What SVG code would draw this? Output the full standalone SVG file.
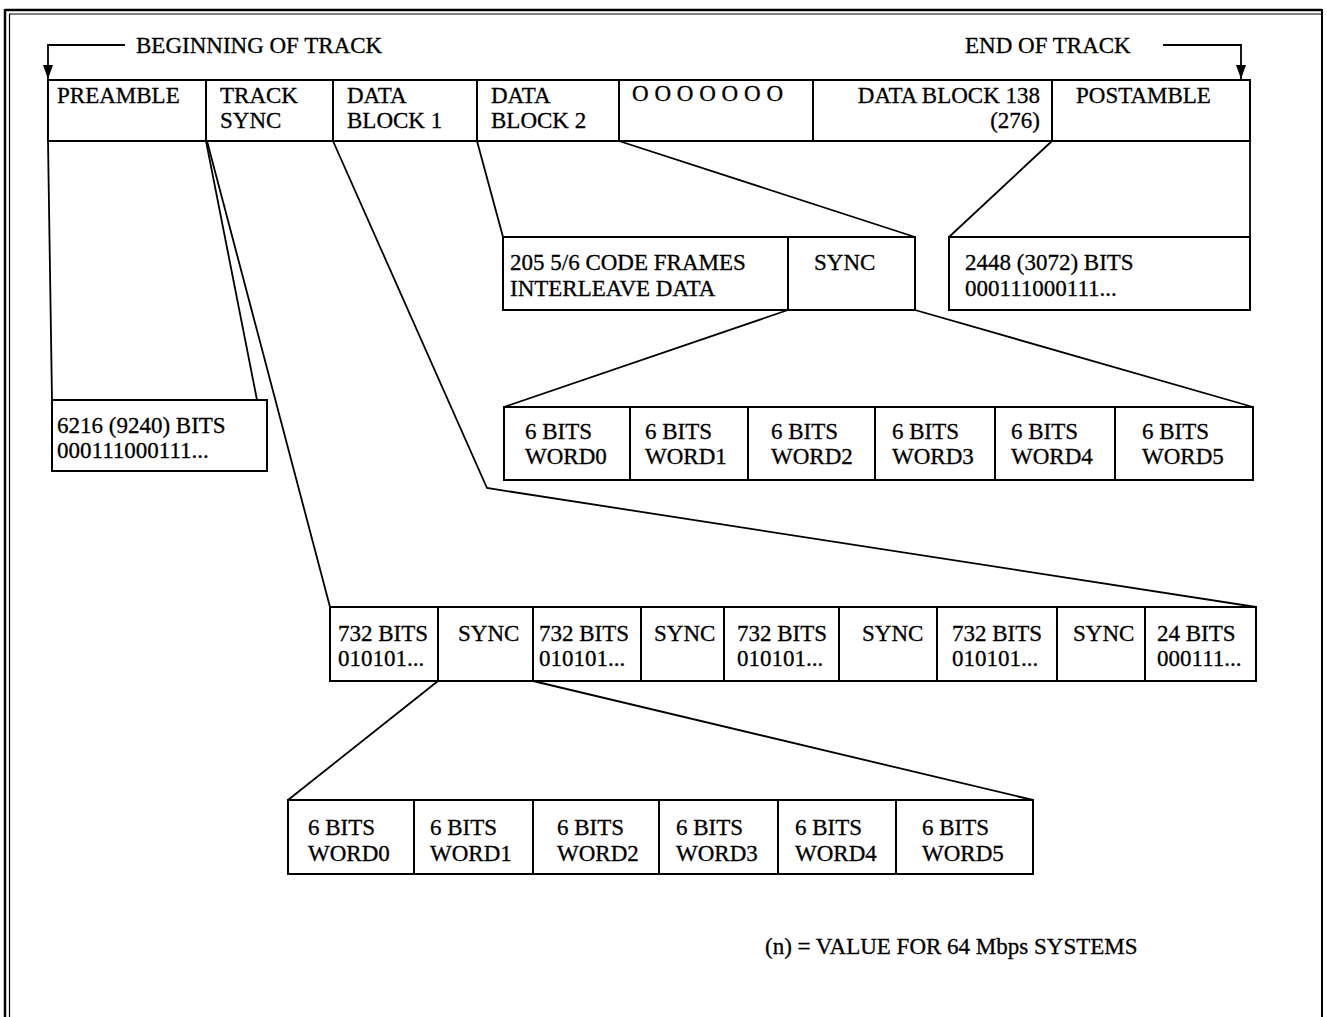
<svg xmlns="http://www.w3.org/2000/svg" width="1327" height="1017" viewBox="0 0 1327 1017">
<style>
.b{fill:none;stroke:#000;stroke-width:2}
.t{font-family:"Liberation Serif","Times New Roman",serif;font-size:23px;fill:#000;stroke:#000;stroke-width:0.3}
.r{text-anchor:end}
.c{fill:none;stroke:#000;stroke-width:1.8}
.f{fill:none;stroke:#000}
</style>
<defs>
<marker id="ah" markerWidth="14" markerHeight="10" refX="14" refY="5" orient="auto" markerUnits="userSpaceOnUse" viewBox="0 0 14 10">
<path d="M0,0 L14,5 L0,10 Z" fill="#000"/>
</marker>
</defs>
<rect width="1327" height="1017" fill="#fff"/>
<g id="frame">
<line class="f" stroke-width="2.5" x1="5" y1="10" x2="1322" y2="10"/>
<line class="f" stroke-width="1" x1="9" y1="14" x2="1322" y2="14"/>
<line class="f" stroke-width="2.5" x1="5" y1="9" x2="5" y2="1017"/>
<line class="f" stroke-width="1.2" x1="9.5" y1="14" x2="9.5" y2="1017"/>
<line class="f" stroke-width="2" x1="1322" y1="9" x2="1322" y2="1017"/>
</g>
<g id="connectors">
<polyline class="c" points="125,45 48,45 48,79" marker-end="url(#ah)"/>
<polyline class="c" points="1163,45 1241,45 1241,79" marker-end="url(#ah)"/>
<line class="c" x1="48" y1="141" x2="52" y2="400"/>
<line class="c" x1="206" y1="141" x2="257" y2="400"/>
<line class="c" x1="207" y1="141" x2="330" y2="607"/>
<polyline class="c" points="333,141 487,488 1256,607"/>
<line class="c" x1="477" y1="141" x2="503" y2="237"/>
<line class="c" x1="619" y1="141" x2="915" y2="237"/>
<line class="c" x1="1052" y1="141" x2="949" y2="237"/>
<line class="c" x1="1250" y1="141" x2="1250" y2="237"/>
<line class="c" x1="788" y1="310" x2="504" y2="407"/>
<line class="c" x1="915" y1="310" x2="1253" y2="407"/>
<line class="c" x1="438" y1="681" x2="288" y2="800"/>
<line class="c" x1="533" y1="681" x2="1033" y2="800"/>
</g>
<g id="label-beginning"><text class="t" x="136" y="53">BEGINNING OF TRACK</text></g>
<g id="label-end"><text class="t" x="965" y="53">END OF TRACK</text></g>
<g id="preamble"><rect class="b" x="48" y="80" width="158" height="61"/><text class="t" x="57" y="103">PREAMBLE</text></g>
<g id="track-sync"><rect class="b" x="206" y="80" width="127" height="61"/><text class="t" x="220" y="103">TRACK</text><text class="t" x="220" y="128">SYNC</text></g>
<g id="data-block-1"><rect class="b" x="333" y="80" width="144" height="61"/><text class="t" x="347" y="103">DATA</text><text class="t" x="347" y="128">BLOCK 1</text></g>
<g id="data-block-2"><rect class="b" x="477" y="80" width="142" height="61"/><text class="t" x="491" y="103">DATA</text><text class="t" x="491" y="128">BLOCK 2</text></g>
<g id="ellipsis"><rect class="b" x="619" y="80" width="194" height="61"/><text class="t" x="632" y="101" textLength="151">O O O O O O O</text></g>
<g id="data-block-138"><rect class="b" x="813" y="80" width="239" height="61"/><text class="t r" x="1040" y="103">DATA BLOCK 138</text><text class="t r" x="1040" y="128">(276)</text></g>
<g id="postamble"><rect class="b" x="1052" y="80" width="198" height="61"/><text class="t" x="1076" y="103">POSTAMBLE</text></g>
<g id="code-frames"><rect class="b" x="503" y="237" width="285" height="73"/><text class="t" x="510" y="270">205 5/6 CODE FRAMES</text><text class="t" x="510" y="296">INTERLEAVE DATA</text></g>
<g id="block-sync"><rect class="b" x="788" y="237" width="127" height="73"/><text class="t" x="814" y="270">SYNC</text></g>
<g id="postamble-bits"><rect class="b" x="949" y="237" width="301" height="73"/><text class="t" x="965" y="270">2448 (3072) BITS</text><text class="t" x="965" y="296">000111000111...</text></g>
<g id="preamble-bits"><rect class="b" x="52" y="400" width="215" height="71"/><text class="t" x="57" y="433">6216 (9240) BITS</text><text class="t" x="57" y="458">000111000111...</text></g>
<g id="w1-0"><rect class="b" x="504" y="407" width="126" height="73"/><text class="t" x="525" y="439">6 BITS</text><text class="t" x="525" y="464">WORD0</text></g>
<g id="w1-1"><rect class="b" x="630" y="407" width="118" height="73"/><text class="t" x="645" y="439">6 BITS</text><text class="t" x="645" y="464">WORD1</text></g>
<g id="w1-2"><rect class="b" x="748" y="407" width="127" height="73"/><text class="t" x="771" y="439">6 BITS</text><text class="t" x="771" y="464">WORD2</text></g>
<g id="w1-3"><rect class="b" x="875" y="407" width="120" height="73"/><text class="t" x="892" y="439">6 BITS</text><text class="t" x="892" y="464">WORD3</text></g>
<g id="w1-4"><rect class="b" x="995" y="407" width="120" height="73"/><text class="t" x="1011" y="439">6 BITS</text><text class="t" x="1011" y="464">WORD4</text></g>
<g id="w1-5"><rect class="b" x="1115" y="407" width="138" height="73"/><text class="t" x="1142" y="439">6 BITS</text><text class="t" x="1142" y="464">WORD5</text></g>
<g id="s-0"><rect class="b" x="330" y="607" width="108" height="74"/><text class="t" x="338" y="641">732 BITS</text><text class="t" x="338" y="666">010101...</text></g>
<g id="s-1"><rect class="b" x="438" y="607" width="95" height="74"/><text class="t" x="458" y="641">SYNC</text></g>
<g id="s-2"><rect class="b" x="533" y="607" width="108" height="74"/><text class="t" x="539" y="641">732 BITS</text><text class="t" x="539" y="666">010101...</text></g>
<g id="s-3"><rect class="b" x="641" y="607" width="83" height="74"/><text class="t" x="654" y="641">SYNC</text></g>
<g id="s-4"><rect class="b" x="724" y="607" width="115" height="74"/><text class="t" x="737" y="641">732 BITS</text><text class="t" x="737" y="666">010101...</text></g>
<g id="s-5"><rect class="b" x="839" y="607" width="98" height="74"/><text class="t" x="862" y="641">SYNC</text></g>
<g id="s-6"><rect class="b" x="937" y="607" width="120" height="74"/><text class="t" x="952" y="641">732 BITS</text><text class="t" x="952" y="666">010101...</text></g>
<g id="s-7"><rect class="b" x="1057" y="607" width="88" height="74"/><text class="t" x="1073" y="641">SYNC</text></g>
<g id="s-8"><rect class="b" x="1145" y="607" width="111" height="74"/><text class="t" x="1157" y="641">24 BITS</text><text class="t" x="1157" y="666">000111...</text></g>
<g id="w2-0"><rect class="b" x="288" y="800" width="126" height="74"/><text class="t" x="308" y="835">6 BITS</text><text class="t" x="308" y="861">WORD0</text></g>
<g id="w2-1"><rect class="b" x="414" y="800" width="119" height="74"/><text class="t" x="430" y="835">6 BITS</text><text class="t" x="430" y="861">WORD1</text></g>
<g id="w2-2"><rect class="b" x="533" y="800" width="126" height="74"/><text class="t" x="557" y="835">6 BITS</text><text class="t" x="557" y="861">WORD2</text></g>
<g id="w2-3"><rect class="b" x="659" y="800" width="119" height="74"/><text class="t" x="676" y="835">6 BITS</text><text class="t" x="676" y="861">WORD3</text></g>
<g id="w2-4"><rect class="b" x="778" y="800" width="118" height="74"/><text class="t" x="795" y="835">6 BITS</text><text class="t" x="795" y="861">WORD4</text></g>
<g id="w2-5"><rect class="b" x="896" y="800" width="137" height="74"/><text class="t" x="922" y="835">6 BITS</text><text class="t" x="922" y="861">WORD5</text></g>
<g id="footnote"><text class="t" x="765" y="954" font-size="21">(n) = VALUE FOR 64 Mbps SYSTEMS</text></g>
</svg>
